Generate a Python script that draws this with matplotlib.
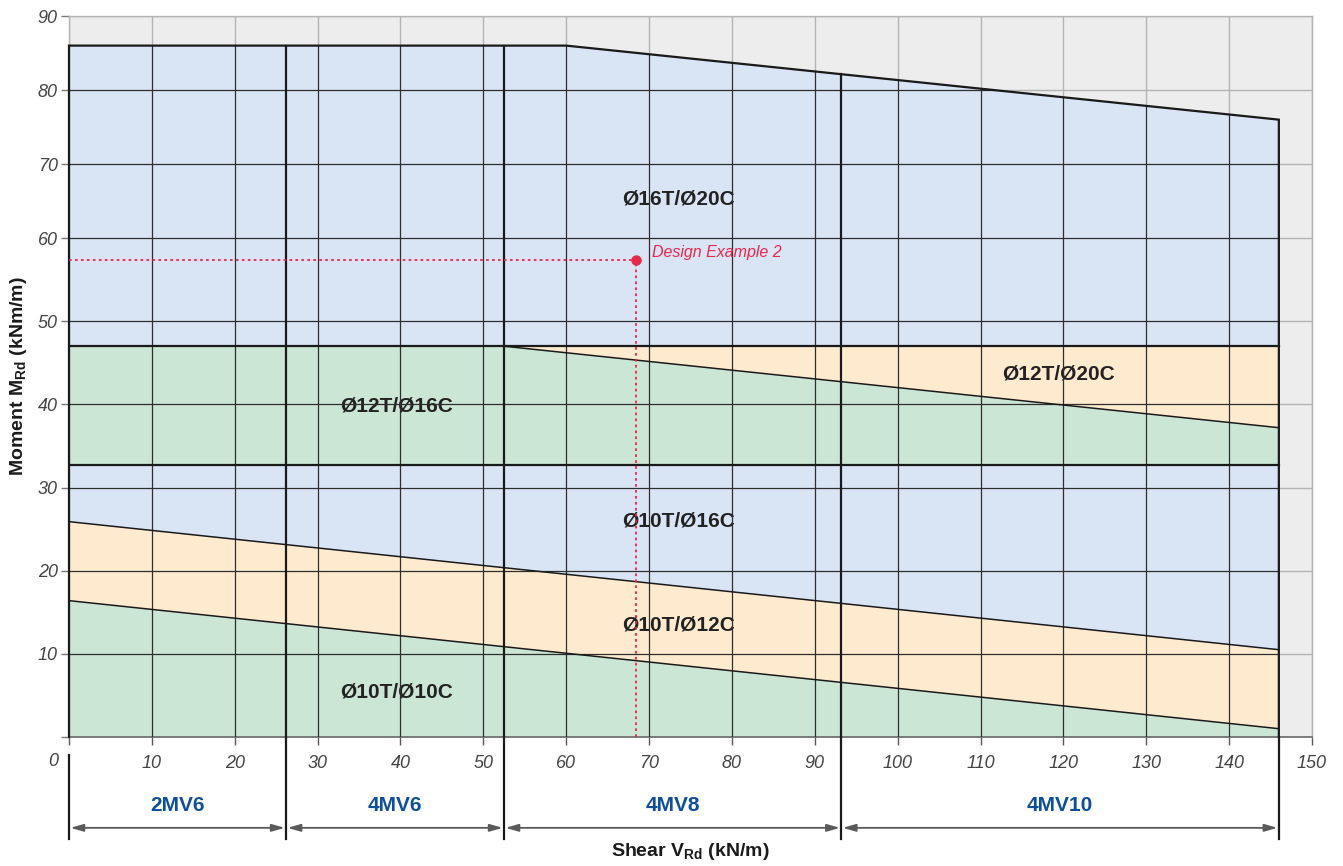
import numpy as np
import matplotlib
matplotlib.use("Agg")
import matplotlib.pyplot as plt
from matplotlib.patches import Polygon

plt.rcParams['font.family'] = ['Liberation Sans', 'DejaVu Sans']
plt.rcParams['mathtext.fontset'] = 'custom'
plt.rcParams['mathtext.rm'] = 'Liberation Sans'
plt.rcParams['mathtext.bf'] = 'Liberation Sans:bold'
plt.rcParams['mathtext.it'] = 'Liberation Sans:italic'

# ---- chart data ---------------------------------------------------------
# upper limit of the chart (Ø16T/Ø20C)
top_v = [0, 60, 146]
top_m = [86, 86, 76]
# flat boundaries
m_12T = 47.0      # top of Ø12T zone
m_10T = 32.7      # top of Ø10T/Ø16C zone
# Ø12T/Ø20C lower boundary
b1220_v = [52.5, 146]
b1220_m = [47.0, 37.2]
# Ø10T/Ø12C upper boundary
b1012_v = [0, 146]
b1012_m = [25.9, 10.5]
# Ø10T/Ø10C upper boundary
b1010_v = [0, 146]
b1010_m = [16.4, 1.0]

# connector ranges along the shear axis
range_edges = [0, 26.2, 52.5, 93.2, 146]
range_names = ['2MV6', '4MV6', '4MV8', '4MV10']

# design example point
example_v, example_m = 68.4, 57.4
example_name = 'Design Example 2'

x_ticks = list(range(0, 151, 10))
y_ticks = list(range(0, 91, 10))

# ---- styling ------------------------------------------------------------
BLUE = '#d9e4f4'
GREEN = '#cce6d5'
ORANGE = '#feebcf'
RED = '#e8284a'
LABEL_BLUE = '#0d4f9e'
TICK_C = '#444444'

# the part of the moment axis above 60 is drawn compressed
K = 7.4 / 8.31


def fwd(v):
    v = np.asarray(v, dtype=float)
    return np.where(v <= 60, v, 60 + (v - 60) * K)


def inv(u):
    u = np.asarray(u, dtype=float)
    return np.where(u <= 60, u, 60 + (u - 60) / K)


W, H = 1343, 866
fig = plt.figure(figsize=(W / 100, H / 100), dpi=100)
ax = fig.add_axes([69 / W, 1 - 737 / H, (1312 - 69) / W, (737 - 16) / H])
ax.set_yscale('function', functions=(fwd, inv))
ax.set_xlim(0, 150)
ax.set_ylim(0, 90)
ax.set_facecolor('#ededed')

# light grid behind everything
ax.set_axisbelow(True)
ax.set_xticks(x_ticks)
ax.set_yticks(y_ticks)
ax.grid(True, color='#b4b4b4', lw=1.0)

# ---- filled zones -------------------------------------------------------
vmax = top_v[-1]
V = np.unique(np.concatenate([np.linspace(0, vmax, 400), top_v, b1220_v, range_edges]))
top = np.interp(V, top_v, top_m)
l1220 = np.interp(V, b1220_v, b1220_m)
l1012 = np.interp(V, b1012_v, b1012_m)
l1010 = np.interp(V, b1010_v, b1010_m)
flat47 = np.full_like(V, m_12T)
flat33 = np.full_like(V, m_10T)

ax.fill_between(V, flat47, top, color=BLUE, lw=0, zorder=1)
ax.fill_between(V, l1220, flat47, color=ORANGE, lw=0, zorder=1)
ax.fill_between(V, flat33, l1220, color=GREEN, lw=0, zorder=1)
ax.fill_between(V, l1012, flat33, color=BLUE, lw=0, zorder=1)
ax.fill_between(V, l1010, l1012, color=ORANGE, lw=0, zorder=1)
ax.fill_between(V, 0, l1010, color=GREEN, lw=0, zorder=1)

# zone names
zone_labels = [
    ('Ø16T/Ø20C', 73.5, 65.3),
    ('Ø12T/Ø16C', 39.5, 39.8),
    ('Ø12T/Ø20C', 119.4, 43.7),
    ('Ø10T/Ø16C', 73.5, 26.0),
    ('Ø10T/Ø12C', 73.5, 13.5),
    ('Ø10T/Ø10C', 39.5, 5.4),
]
for txt, xv, yv in zone_labels:
    ax.text(xv, yv, txt, ha='center', va='center', fontsize=15,
            fontweight='bold', color='#222222', zorder=2)

# dark grid inside the chart outline
outline = Polygon(list(zip([0] + top_v + [vmax], [0] + top_m + [0])),
                  closed=True, transform=ax.transData, fill=False, lw=0)
ax.add_patch(outline)
gx = ax.vlines(x_ticks[1:-1], 0, 90, colors='#2e2e2e', lw=0.9, zorder=3)
gy = ax.hlines(y_ticks[1:-1], 0, 150, colors='#2e2e2e', lw=0.9, zorder=3)
gx.set_clip_path(outline)
gy.set_clip_path(outline)

# zone boundaries
ax.plot([0] + top_v + [vmax], [0] + top_m + [0], color='#1a1a1a', lw=1.6, zorder=4,
        solid_joinstyle='miter', clip_on=False)
ax.plot([0, vmax], [m_12T, m_12T], color='#1a1a1a', lw=1.6, zorder=4)
ax.plot([0, vmax], [m_10T, m_10T], color='#1a1a1a', lw=1.6, zorder=4)
ax.plot(b1220_v, b1220_m, color='#1a1a1a', lw=1.1, zorder=4)
ax.plot(b1012_v, b1012_m, color='#1a1a1a', lw=1.1, zorder=4)
ax.plot(b1010_v, b1010_m, color='#1a1a1a', lw=1.1, zorder=4)

# connector range dividers and arrows below the axis
xtr = ax.get_xaxis_transform()
y_low = -0.1415
for e in range_edges[1:-1]:
    mtop = float(np.interp(e, top_v, top_m))
    ax.plot([e, e], [0, mtop], color='#1a1a1a', lw=1.6, zorder=4)
for e in range_edges:
    y_start = -0.025 if e == range_edges[0] else 0.0
    ax.plot([e, e], [y_start, y_low], color='#1a1a1a', lw=1.6,
            transform=xtr, clip_on=False, zorder=4)
for a, b, name in zip(range_edges[:-1], range_edges[1:], range_names):
    ax.annotate('', xy=(b, -0.126), xytext=(a, -0.126), xycoords=xtr,
                textcoords=xtr,
                arrowprops=dict(arrowstyle='<|-|>,head_length=0.7,head_width=0.2',
                                color='#5a5a5a', lw=1.3, shrinkA=1, shrinkB=1,
                                mutation_scale=11))
    ax.text((a + b) / 2, -0.0957, name, transform=xtr, ha='center', va='center',
            fontsize=15, fontweight='bold', color=LABEL_BLUE)

# design example
ax.plot([0, example_v], [example_m, example_m], color=RED, lw=1.3,
        linestyle=(0, (1.5, 1.8)), zorder=5)
ax.plot([example_v, example_v], [0, example_m], color=RED, lw=1.3,
        linestyle=(0, (1.5, 1.8)), zorder=5)
ax.plot([example_v], [example_m], 'o', color=RED, ms=6.5, zorder=6)
ax.annotate(example_name, xy=(example_v, example_m), xytext=(16, 7),
            textcoords='offset pixels', ha='left', va='center',
            fontsize=11.5, style='italic', color=RED, zorder=6)

# ---- axes styling -------------------------------------------------------
for s in ['top', 'right', 'left']:
    ax.spines[s].set_color('#b4b4b4')
    ax.spines[s].set_linewidth(1.0)
ax.spines['bottom'].set_color('#6a6a6a')
ax.spines['bottom'].set_linewidth(1.2)

ax.set_xticklabels([''] + [str(t) for t in x_ticks[1:]])
ax.set_yticklabels([''] + [str(t) for t in y_ticks[1:]])
ax.tick_params(axis='x', direction='out', length=6, width=1, color='#5a5a5a',
               pad=7, labelsize=13, labelcolor=TICK_C)
ax.tick_params(axis='y', direction='out', length=6, width=1, color='#7a7a7a',
               pad=2, labelsize=13, labelcolor=TICK_C)
for lab in ax.get_xticklabels() + ax.get_yticklabels():
    lab.set_fontstyle('italic')
ax.annotate('0', xy=(0, 0), xycoords=xtr, xytext=(-16, -25),
            textcoords='offset pixels', ha='center', va='center',
            fontsize=13, style='italic', color=TICK_C, annotation_clip=False)

ax.text(0.5, -0.1595, r'Shear V$_{\mathbf{Rd}}$ (kN/m)', transform=ax.transAxes,
        ha='center', va='center', fontsize=14, fontweight='bold', color='#1a1a1a')
ax.text(-0.041, 0.5, r'Moment M$_{\mathbf{Rd}}$ (kNm/m)', transform=ax.transAxes,
        ha='center', va='center', rotation=90, fontsize=14, fontweight='bold',
        color='#1a1a1a')

fig.savefig('out.png', dpi=100)
